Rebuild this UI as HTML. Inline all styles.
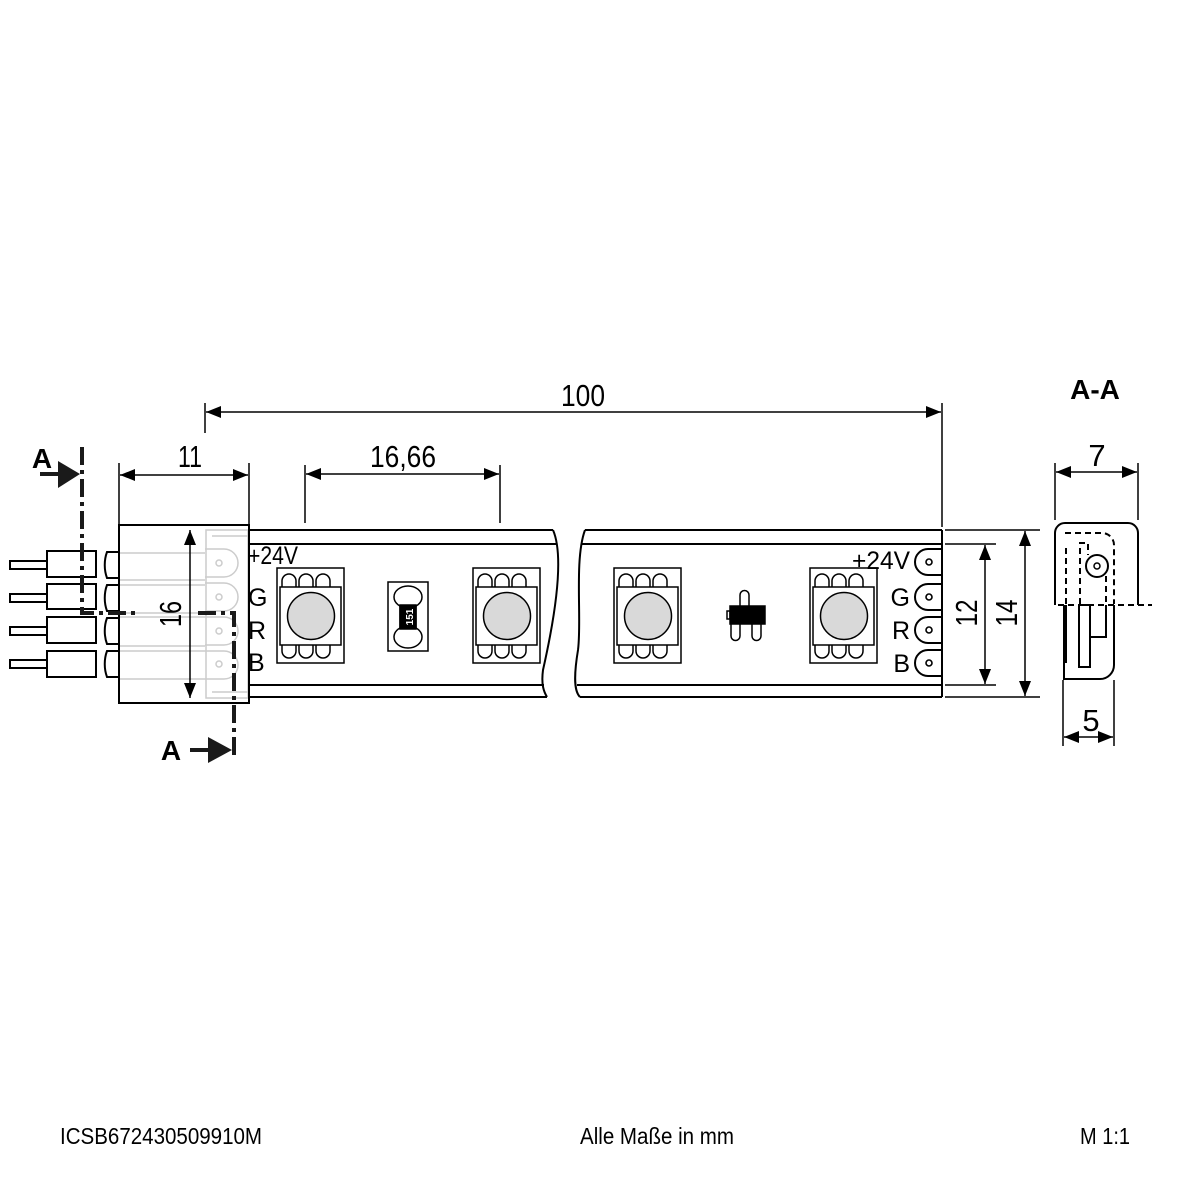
<!DOCTYPE html>
<html><head><meta charset="utf-8"><style>html,body{margin:0;padding:0;background:#fff}svg{display:block}text{font-family:"Liberation Sans",sans-serif}</style></head>
<body>
<svg width="1182" height="1182" viewBox="0 0 1182 1182" xmlns="http://www.w3.org/2000/svg">
<defs>
<marker id="ae" markerWidth="16" markerHeight="12" refX="15" refY="6" orient="auto" markerUnits="userSpaceOnUse"><path d="M0,0 L15,6 L0,12 Z" fill="#000"/></marker>
<marker id="as" markerWidth="16" markerHeight="12" refX="0" refY="6" orient="auto" markerUnits="userSpaceOnUse"><path d="M15,0 L0,6 L15,12 Z" fill="#000"/></marker>
<g id="led" fill="none" stroke="#000" stroke-width="1.5">
<rect x="0" y="0" width="67" height="95"/>
<path d="M5,19 v-6 a7,7 0 0 1 14,0 v6 M22,19 v-6 a7,7 0 0 1 14,0 v6 M39,19 v-6 a7,7 0 0 1 14,0 v6"/>
<path d="M5,77 v6 a7,7 0 0 0 14,0 v-6 M22,77 v6 a7,7 0 0 0 14,0 v-6 M39,77 v6 a7,7 0 0 0 14,0 v-6"/>
<rect x="3" y="19" width="61" height="58" fill="#fff"/>
<circle cx="34" cy="48" r="23.5" fill="#d9d9d9"/>
</g>
<g id="pad" fill="none" stroke="#000" stroke-width="2">
<path d="M942,-13 h-14 a13,13 0 0 0 0,26 h14"/>
<circle cx="929" cy="0" r="3" stroke-width="1.6"/>
</g>
</defs>

<g stroke="#000" stroke-width="1.5" fill="none">
<line x1="205" y1="403" x2="205" y2="433"/>
<line x1="942" y1="403" x2="942" y2="527"/>
<line x1="206" y1="412" x2="941" y2="412" marker-start="url(#as)" marker-end="url(#ae)"/>
<line x1="119" y1="463" x2="119" y2="525"/>
<line x1="249" y1="463" x2="249" y2="525"/>
<line x1="120" y1="475" x2="248" y2="475" marker-start="url(#as)" marker-end="url(#ae)"/>
<line x1="305" y1="465" x2="305" y2="523"/>
<line x1="500" y1="465" x2="500" y2="523"/>
<line x1="306" y1="474" x2="499" y2="474" marker-start="url(#as)" marker-end="url(#ae)"/>
</g>
<text x="583" y="406" font-size="31" text-anchor="middle" textLength="44" lengthAdjust="spacingAndGlyphs">100</text>
<text x="190" y="467" font-size="31" text-anchor="middle" textLength="24" lengthAdjust="spacingAndGlyphs">11</text>
<text x="403" y="467" font-size="31" text-anchor="middle" textLength="66" lengthAdjust="spacingAndGlyphs">16,66</text>

<g stroke="#000" stroke-width="2" fill="none">
<path d="M249,530 H553 M249,544 H557 M249,685 H544 M249,697 H547"/>
<path d="M553,530 C566,560 552,630 543,670 C541,685 544,692 547,697"/>
<path d="M585,530 C574,560 582,620 578,650 C573,680 575,692 580,697"/>
<path d="M585,530 H942 M582,544 H942 M577,685 H942 M580,697 H942"/>
<line x1="942" y1="530" x2="942" y2="697"/>
</g>
<use href="#led" x="277" y="568"/>
<use href="#led" x="473" y="568"/>
<use href="#led" x="614" y="568"/>
<use href="#led" x="810" y="568"/>
<g stroke="#000" stroke-width="1.5" fill="none">
<rect x="388" y="582" width="40" height="69"/>
<rect x="400" y="598" width="16" height="38" fill="#000"/>
<ellipse cx="408" cy="597" rx="14" ry="11" fill="#fff"/>
<ellipse cx="408" cy="637" rx="14" ry="11" fill="#fff"/>
<rect x="400" y="605" width="16" height="24" fill="#000"/>
</g>
<text transform="translate(413,617) rotate(-90)" font-size="10" fill="#fff" text-anchor="middle" font-weight="bold">151</text>
<g stroke="#000" stroke-width="1.5" fill="none">
<path d="M740,608 v-13 a4.5,4.5 0 0 1 9,0 v13"/>
<path d="M731,620 v16 a4.5,4.5 0 0 0 9,0 v-16 M752,620 v16 a4.5,4.5 0 0 0 9,0 v-16"/>
<rect x="727" y="611" width="3" height="8"/>
<rect x="730" y="606" width="35" height="18" fill="#000"/>
</g>
<use href="#pad" y="562"/>
<use href="#pad" y="597"/>
<use href="#pad" y="630"/>
<use href="#pad" y="663"/>
<g font-size="25">
<text x="852" y="569" textLength="58" lengthAdjust="spacingAndGlyphs">+24V</text>
<text x="910" y="606" text-anchor="end">G</text>
<text x="910" y="639" text-anchor="end">R</text>
<text x="910" y="672" text-anchor="end">B</text>
</g>
<g stroke="#000" stroke-width="1.5" fill="none">
<line x1="945" y1="530" x2="1040" y2="530"/>
<line x1="945" y1="697" x2="1040" y2="697"/>
<line x1="945" y1="544" x2="996" y2="544"/>
<line x1="945" y1="685" x2="996" y2="685"/>
<line x1="985" y1="545" x2="985" y2="684" marker-start="url(#as)" marker-end="url(#ae)"/>
<line x1="1025" y1="531" x2="1025" y2="696" marker-start="url(#as)" marker-end="url(#ae)"/>
</g>
<text transform="translate(977,613) rotate(-90)" font-size="31" text-anchor="middle" textLength="27" lengthAdjust="spacingAndGlyphs">12</text>
<text transform="translate(1017,613) rotate(-90)" font-size="31" text-anchor="middle" textLength="27" lengthAdjust="spacingAndGlyphs">14</text>

<g stroke="#ccc" stroke-width="1.5" fill="none">
<rect x="206" y="530" width="42" height="168"/>
<path d="M212,536 H248 M212,692 H248"/>
<path d="M205,549 h19 a14,14 0 0 1 0,28 h-19 M205,583 h19 a14,14 0 0 1 0,28 h-19 M205,617 h19 a14,14 0 0 1 0,28 h-19 M205,651 h19 a14,14 0 0 1 0,28 h-19"/>
<path d="M119,553 H205 M119,580 H205 M119,585 H205 M119,613 H205 M119,617 H205 M119,646 H205 M119,651 H205 M119,679 H205"/>
<circle cx="219" cy="563" r="3"/><circle cx="219" cy="597" r="3"/><circle cx="219" cy="631" r="3"/><circle cx="219" cy="664" r="3"/>
</g>
<rect x="119" y="525" width="130" height="178" fill="none" stroke="#000" stroke-width="2"/>
<line x1="190" y1="530" x2="190" y2="698" stroke="#000" stroke-width="1.5" marker-start="url(#as)" marker-end="url(#ae)"/>
<text transform="translate(181,614) rotate(-90)" font-size="31" text-anchor="middle" textLength="26" lengthAdjust="spacingAndGlyphs">16</text>
<g font-size="25">
<text x="248" y="564" textLength="50" lengthAdjust="spacingAndGlyphs">+24V</text>
<text x="248" y="606">G</text>
<text x="248" y="639">R</text>
<text x="248" y="671">B</text>
</g>
<g stroke="#000" stroke-width="2" fill="#fff">
<rect x="10" y="561" width="37" height="8"/><rect x="47" y="551" width="49" height="26"/>
<rect x="10" y="594" width="37" height="8"/><rect x="47" y="584" width="49" height="25"/>
<rect x="10" y="627" width="37" height="8"/><rect x="47" y="617" width="49" height="26"/>
<rect x="10" y="660" width="37" height="8"/><rect x="47" y="651" width="49" height="26"/>
<path fill="none" d="M119,552 h-12 c-3,8 -3,18 0,26 h12 M119,585 h-12 c-3,8 -3,18 0,26 h12 M119,618 h-12 c-3,8 -3,18 0,26 h12 M119,651 h-12 c-3,8 -3,18 0,26 h12"/>
</g>
<g stroke="#1a1a1a" stroke-width="4" fill="none">
<path d="M82,447 V613 H135" stroke-dasharray="18,5,4,5"/>
<path d="M198,613 H234 V757" stroke-dasharray="18,5,4,5"/>
<line x1="40" y1="474" x2="62" y2="474"/>
<line x1="190" y1="750" x2="212" y2="750"/>
</g>
<path d="M58,461 L80,474 L58,488 Z" fill="#1a1a1a"/>
<path d="M208,737 L232,750 L208,763 Z" fill="#1a1a1a"/>
<text x="42" y="468" font-size="28" font-weight="bold" text-anchor="middle">A</text>
<text x="171" y="760" font-size="28" font-weight="bold" text-anchor="middle">A</text>

<text x="1095" y="399" font-size="28" font-weight="bold" text-anchor="middle">A-A</text>
<g stroke="#000" stroke-width="1.5" fill="none">
<line x1="1055" y1="463" x2="1055" y2="520"/>
<line x1="1138" y1="463" x2="1138" y2="520"/>
<line x1="1056" y1="472" x2="1137" y2="472" marker-start="url(#as)" marker-end="url(#ae)"/>
<line x1="1063" y1="680" x2="1063" y2="746"/>
<line x1="1114" y1="680" x2="1114" y2="746"/>
<line x1="1064" y1="737" x2="1113" y2="737" marker-start="url(#as)" marker-end="url(#ae)"/>
</g>
<text x="1091" y="731" font-size="31" text-anchor="middle">5</text>
<text x="1097" y="466" font-size="31" text-anchor="middle">7</text>
<g stroke="#000" stroke-width="2" fill="none">
<path d="M1055,605 V533 a10,10 0 0 1 10,-10 H1128 a10,10 0 0 1 10,10 V605"/>
<path d="M1064,605 V679 H1100 a14,14 0 0 0 14,-14 V605"/>
<path d="M1066,605 V663"/>
<rect x="1079" y="605" width="11" height="62"/>
<path d="M1090,605 V637 H1106 V605"/>
<circle cx="1097" cy="566" r="11"/>
<circle cx="1097" cy="566" r="3" stroke-width="1.5"/>
</g>
<g stroke="#000" stroke-width="2" fill="none" stroke-dasharray="6,4">
<path d="M1058,605 H1152"/>
<path d="M1066,604 V545 M1065,533 H1102 a12,12 0 0 1 12,12 V604"/>
<path d="M1080,604 V543 H1088 V555"/>
<path d="M1106,576 V604"/>
</g>

<text x="60" y="1144" font-size="23" textLength="202" lengthAdjust="spacingAndGlyphs">ICSB672430509910M</text>
<text x="580" y="1144" font-size="23" textLength="154" lengthAdjust="spacingAndGlyphs">Alle Maße in mm</text>
<text x="1080" y="1144" font-size="23" textLength="50" lengthAdjust="spacingAndGlyphs">M 1:1</text>
</svg>
</body></html>
